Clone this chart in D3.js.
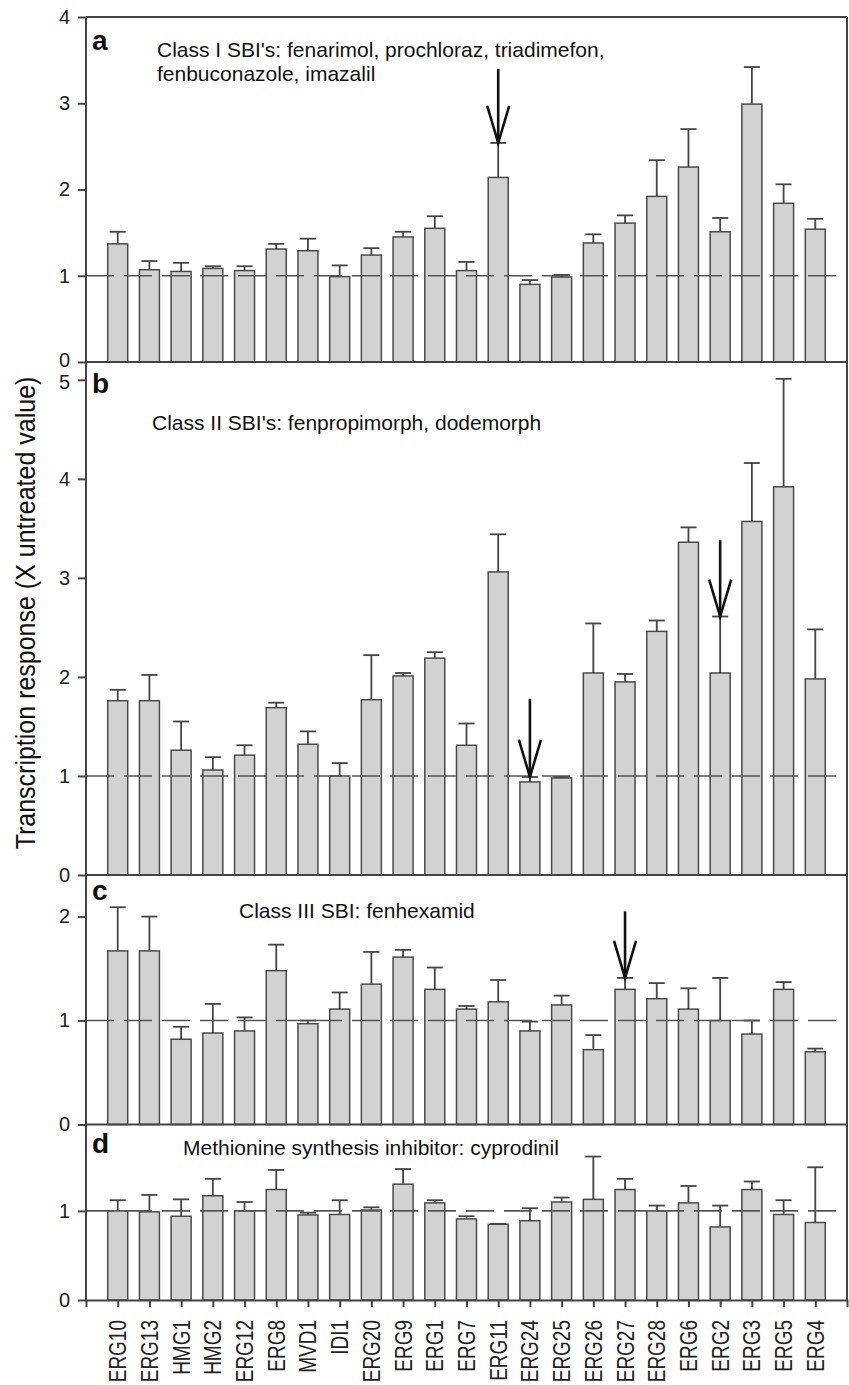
<!DOCTYPE html>
<html>
<head>
<meta charset="UTF-8">
<script src="https://d3js.org/d3.v7.min.js"></script>
<style>
  body { margin: 0; background: #fff; }
  svg { display: block; font-family: "Liberation Sans", Arial, sans-serif; }
  .bar { fill: #d2d2d2; stroke: #4a4a4a; stroke-width: 1.5px; }
  .err { stroke: #444; stroke-width: 1.8px; fill: none; }
  .unity { stroke: #555; stroke-width: 1.6px; stroke-dasharray: 28 10; }
  .frame { stroke: #444; stroke-width: 2px; fill: none; }
  .axis path, .axis line { stroke: #444; stroke-width: 2px; }
  .axis text { font-size: 20px; fill: #222; font-family: "Liberation Sans", Arial, sans-serif; }
  .arrow { stroke: #111; stroke-width: 2.6px; fill: none; }
  .note { font-size: 21px; fill: #111; }
  .tag { font-size: 28px; font-weight: bold; fill: #111; }
</style>
</head>
<body>
<svg width="849" height="1385"></svg>
<script>
// genes on the x axis
const genes = ["ERG10", "ERG13", "HMG1", "HMG2", "ERG12", "ERG8", "MVD1", "IDI1", "ERG20", "ERG9",
  "ERG1", "ERG7", "ERG11", "ERG24", "ERG25", "ERG26", "ERG27", "ERG28", "ERG6", "ERG2", "ERG3", "ERG5", "ERG4"];

// a: Class I SBI's
const meanA = [1.37, 1.07, 1.05, 1.085, 1.06, 1.31, 1.29, 0.99, 1.24, 1.45, 1.55, 1.06, 2.14, 0.90, 0.985, 1.38, 1.61, 1.92, 2.26, 1.51, 2.99, 1.84, 1.54];
const seA = [0.14, 0.10, 0.10, 0.025, 0.05, 0.06, 0.14, 0.13, 0.08, 0.06, 0.14, 0.10, 0.40, 0.05, 0.025, 0.10, 0.09, 0.42, 0.44, 0.16, 0.43, 0.22, 0.12];

// b: Class II SBI's
const meanB = [1.76, 1.76, 1.26, 1.06, 1.21, 1.69, 1.32, 1.00, 1.77, 2.01, 2.19, 1.31, 3.06, 0.94, 0.98, 2.04, 1.95, 2.46, 3.36, 2.04, 3.57, 3.92, 1.98];
const seB = [0.11, 0.26, 0.29, 0.13, 0.10, 0.05, 0.13, 0.13, 0.45, 0.03, 0.06, 0.22, 0.38, 0.05, 0.01, 0.50, 0.08, 0.11, 0.15, 0.57, 0.59, 1.09, 0.50];

// c: Class III SBI
const meanC = [1.67, 1.67, 0.82, 0.88, 0.90, 1.48, 0.97, 1.11, 1.35, 1.61, 1.30, 1.11, 1.18, 0.90, 1.15, 0.72, 1.30, 1.21, 1.11, 1.00, 0.87, 1.30, 0.70];
const seC = [0.42, 0.33, 0.12, 0.28, 0.13, 0.25, 0.03, 0.16, 0.31, 0.07, 0.21, 0.03, 0.21, 0.09, 0.09, 0.14, 0.11, 0.15, 0.20, 0.41, 0.13, 0.07, 0.03];

// d: methionine synthesis inhibitor
const meanD = [1.00, 0.99, 0.94, 1.17, 1.00, 1.24, 0.955, 0.96, 1.01, 1.30, 1.09, 0.91, 0.85, 0.89, 1.10, 1.13, 1.24, 1.00, 1.09, 0.82, 1.24, 0.96, 0.87];
const seD = [0.12, 0.19, 0.19, 0.19, 0.10, 0.22, 0.025, 0.16, 0.03, 0.17, 0.03, 0.03, 0.005, 0.14, 0.05, 0.48, 0.12, 0.06, 0.19, 0.24, 0.09, 0.16, 0.62];

// arrows: gene, start value, tip value
const arrowsA = [["ERG11", 3.40, 2.54]];
const arrowsB = [["ERG24", 1.78, 0.99], ["ERG2", 3.38, 2.61]];
const arrowsC = [["ERG27", 2.05, 1.41]];
const arrowsD = [];

const ticksA = [0, 1, 2, 3, 4];
const ticksB = [0, 1, 2, 3, 4, 5];
const ticksC = [0, 1, 2];
const ticksD = [0, 1];

const notesA = ["Class I SBI's: fenarimol, prochloraz, triadimefon,", "fenbuconazole, imazalil"];
const notesB = ["Class II SBI's: fenpropimorph, dodemorph"];
const notesC = ["Class III SBI: fenhexamid"];
const notesD = ["Methionine synthesis inhibitor: cyprodinil"];

const yTitle = "Transcription response (X untreated value)";

const svg = d3.select("svg");
const left = 86, right = 847;

const x = d3.scalePoint().domain(genes).range([left, right]).padding(1);
const barW = 20;

// panel layout (pixel boxes + y range)
const panels = [
  { tag: "a", top: 17, bottom: 362, max: 4, mean: meanA, se: seA, arrows: arrowsA, ticks: ticksA, notes: notesA, nx: 157, ny: 57, ty: 50 },
  { tag: "b", top: 362, bottom: 875, max: 5.18, mean: meanB, se: seB, arrows: arrowsB, ticks: ticksB, notes: notesB, nx: 152, ny: 430, ty: 393 },
  { tag: "c", top: 875, bottom: 1124.5, max: 2.4, mean: meanC, se: seC, arrows: arrowsC, ticks: ticksC, notes: notesC, nx: 239, ny: 918, ty: 900 },
  { tag: "d", top: 1124.5, bottom: 1300, max: 1.97, mean: meanD, se: seD, arrows: arrowsD, ticks: ticksD, notes: notesD, nx: 183, ny: 1155, ty: 1153 }
];

panels.forEach((p, pi) => {
  const y = d3.scaleLinear().domain([0, p.max]).range([p.bottom, p.top]);
  const g = svg.append("g");
  const rows = genes.map((gname, i) => ({ gene: gname, v: p.mean[i], se: p.se[i] }));

  // bars
  g.selectAll(".bar")
    .data(rows)
    .enter()
    .append("rect")
    .attr("class", "bar")
    .attr("x", d => x(d.gene) - barW / 2)
    .attr("y", d => y(d.v))
    .attr("width", barW)
    .attr("height", d => y(0) - y(d.v));

  // error bars (upper only)
  const eb = g.selectAll(".eb").data(rows).enter().append("g");
  eb.append("line").attr("class", "err")
    .attr("x1", d => x(d.gene)).attr("x2", d => x(d.gene))
    .attr("y1", d => y(d.v)).attr("y2", d => y(d.v + d.se));
  eb.append("line").attr("class", "err")
    .attr("x1", d => x(d.gene) - 8).attr("x2", d => x(d.gene) + 8)
    .attr("y1", d => y(d.v + d.se)).attr("y2", d => y(d.v + d.se));

  // dashed line at 1
  g.append("line").attr("class", "unity")
    .attr("x1", left).attr("x2", right)
    .attr("y1", y(1)).attr("y2", y(1));

  // arrows
  p.arrows.forEach(([gname, from, to]) => {
    const ax = x(gname), y0 = y(from), y1 = y(to);
    g.append("line").attr("class", "arrow")
      .attr("x1", ax).attr("x2", ax).attr("y1", y0).attr("y2", y1);
    g.append("path").attr("class", "arrow")
      .attr("d", `M${ax - 11},${y1 - 37} L${ax},${y1} L${ax + 11},${y1 - 37}`);
  });

  // y axis
  const ya = g.append("g")
    .attr("class", "axis")
    .attr("transform", `translate(${left},0)`)
    .call(d3.axisLeft(y).tickValues(p.ticks).tickFormat(d3.format("d")).tickSize(8).tickPadding(8))
    .call(a => a.select(".domain").remove());

  // nudge the crowded labels where panel a meets panel b
  if (pi === 0) ya.selectAll(".tick text").filter(d => d === 0).attr("dy", "0.2em");
  if (pi === 1) ya.selectAll(".tick text").filter(d => d === 5).attr("dy", "0.45em");

  // separator / top line
  g.append("line").attr("class", "frame")
    .attr("x1", left).attr("x2", right).attr("y1", p.top).attr("y2", p.top);

  // panel letter + annotation
  g.append("text").attr("class", "tag").attr("x", 92).attr("y", p.ty).text(p.tag);
  p.notes.forEach((t, i) => {
    g.append("text").attr("class", "note").attr("x", p.nx).attr("y", p.ny + i * 24).text(t);
  });
});

// outer frame
svg.append("line").attr("class", "frame").attr("x1", left).attr("x2", left).attr("y1", 17).attr("y2", 1300);
svg.append("line").attr("class", "frame").attr("x1", right).attr("x2", right).attr("y1", 17).attr("y2", 1300);

// x axis
const xa = svg.append("g")
  .attr("class", "axis")
  .attr("transform", "translate(0,1300)")
  .call(d3.axisBottom(x).tickSize(7).tickSizeOuter(7));
xa.selectAll(".tick text")
  .attr("x", 0).attr("y", 0).attr("dy", 0)
  .attr("text-anchor", "end")
  .style("font-size", "19px")
  .attr("transform", "translate(8,20) rotate(-90) scale(1,1.23)");

// y title
svg.append("text")
  .attr("transform", "translate(35,613) rotate(-90) scale(1,1.12)")
  .attr("text-anchor", "middle")
  .style("font-size", "25px")
  .style("fill", "#111")
  .text(yTitle);
</script>
</body>
</html>
